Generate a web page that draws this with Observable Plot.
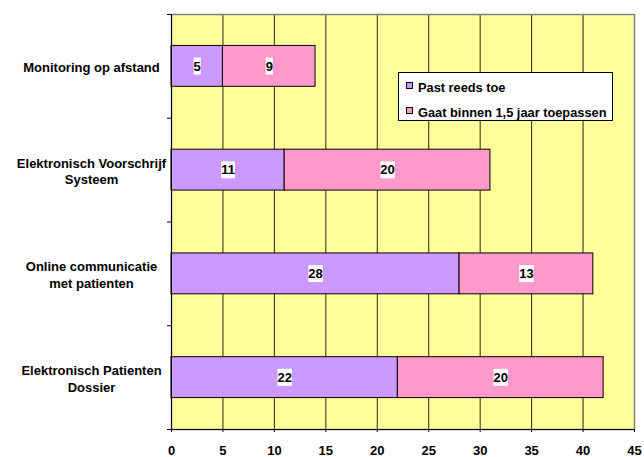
<!DOCTYPE html>
<html>
<head>
<meta charset="utf-8">
<script src="https://cdn.jsdelivr.net/npm/d3@7"></script>
<script src="https://cdn.jsdelivr.net/npm/@observablehq/plot@0.6"></script>
<style>
  body { margin: 0; background: #fff; font-family: Arial, "Liberation Sans", sans-serif; }
  #wrap { position: relative; width: 644px; height: 457px; }
  #legend { position: absolute; left: 398px; top: 72px; width: 215px; height: 49px; background: #fff;
            border: 1px solid #000; box-sizing: border-box; font-weight: 700; font-size: 12.8px; color: #000; }
  .item { position: absolute; left: 7px; display: flex; align-items: center; white-space: nowrap; line-height: 15px; }
  .sw { width: 5px; height: 5px; border: 1px solid #000; margin-right: 5px; margin-top: -5px; }
  svg text { font-weight: 700; }
</style>
</head>
<body>
<div id="wrap"><div id="legend"></div></div>
<script>
const categories = ["Monitoring op afstand", "Elektronisch Voorschrijf Systeem", "Online communicatie met patienten", "Elektronisch Patienten Dossier"];
const categoryLabels = ["Monitoring op afstand", "Elektronisch Voorschrijf\nSysteem", "Online communicatie\nmet patienten", "Elektronisch Patienten\nDossier"];
const seriesNames = ["Past reeds toe", "Gaat binnen 1,5 jaar toepassen"];
const pastReedsToe = [5, 11, 28, 22];
const gaatBinnen = [9, 20, 13, 20];
const seriesColors = ["#CC99FF", "#FF99CC"];
const xTicks = [0, 5, 10, 15, 20, 25, 30, 35, 40, 45];
const bandTicks = [0, 1, 2, 3, 4];

const rows = categories.flatMap((c, i) => [
  {i, cat: c, series: seriesNames[0], x1: 0, x2: pastReedsToe[i], v: pastReedsToe[i]},
  {i, cat: c, series: seriesNames[1], x1: pastReedsToe[i], x2: pastReedsToe[i] + gaatBinnen[i], v: gaatBinnen[i]}
]);

const font = "Arial, 'Liberation Sans', sans-serif";
const half = 0.197;

const chart = Plot.plot({
  width: 644, height: 457,
  marginLeft: 171, marginRight: 10, marginTop: 14, marginBottom: 28,
  x: {domain: [0, 45], label: null},
  y: {domain: [0, 4], reverse: true, label: null},
  color: {domain: seriesNames, range: seriesColors},
  style: {fontFamily: font, fontSize: "13px", fontWeight: "700", color: "#000", background: "transparent", overflow: "visible"},
  marks: [
    Plot.frame({fill: "#FFFF99"}),
    Plot.ruleX(xTicks.filter(t => t > 0 && t < 45), {stroke: "#000", strokeOpacity: 0.85}),
    Plot.frame({stroke: "#808080", strokeWidth: 1.5}),
    Plot.rect(rows, {x1: "x1", x2: "x2", y1: d => d.i + 0.5 - half, y2: d => d.i + 0.5 + half, fill: "series", stroke: "#000", strokeWidth: 1}),
    Plot.ruleX([0], {stroke: "#000"}),
    Plot.ruleY([4], {stroke: "#000"}),
    Plot.axisX({ticks: xTicks, tickSize: 3, tickPadding: 13, fontSize: 13, fontWeight: 700, stroke: "#000"}),
    Plot.axisY({ticks: bandTicks, tickSize: 4, tickFormat: () => "", stroke: "#000"}),
    Plot.text(categoryLabels, {y: (d, i) => i + 0.5, text: d => d, frameAnchor: "left", dx: -80, dy: 0.5, textAnchor: "middle", lineHeight: 1.27, fontSize: 13, fontWeight: 700, fill: "#000"}),
    Plot.text(rows, {x: d => (d.x1 + d.x2) / 2, y: d => d.i + 0.5, text: d => String(d.v), fontSize: 13, fontWeight: 700, fill: "#000", ariaDescription: "values"})
  ]
});

document.getElementById("wrap").appendChild(chart);
chart.style.position = "absolute";
chart.style.left = "0";
chart.style.top = "0";
document.getElementById("wrap").appendChild(document.getElementById("legend"));

// white boxes behind value labels
let valueTexts = chart.querySelectorAll('g[aria-description="values"] text');
if (!valueTexts.length) {
  const groups = chart.querySelectorAll('g[aria-label="text"]');
  valueTexts = groups[groups.length - 1].querySelectorAll("text");
}
valueTexts.forEach(t => {
  const b = t.getBBox();
  const r = document.createElementNS("http://www.w3.org/2000/svg", "rect");
  r.setAttribute("x", b.x);
  r.setAttribute("y", b.y + b.height / 2 - 8.5);
  r.setAttribute("width", b.width);
  r.setAttribute("height", 17);
  r.setAttribute("fill", "#fff");
  r.setAttribute("stroke", "none");
  if (t.getAttribute("transform")) r.setAttribute("transform", t.getAttribute("transform"));
  t.parentNode.insertBefore(r, t);
});

// legend
const legend = document.getElementById("legend");
seriesNames.forEach((s, k) => {
  const it = document.createElement("div");
  it.className = "item";
  it.style.top = (k === 0 ? 7 : 32) + "px";
  const sw = document.createElement("span");
  sw.className = "sw";
  sw.style.background = seriesColors[k];
  const tx = document.createElement("span");
  tx.textContent = s;
  it.appendChild(sw); it.appendChild(tx);
  legend.appendChild(it);
});
</script>
</body>
</html>
